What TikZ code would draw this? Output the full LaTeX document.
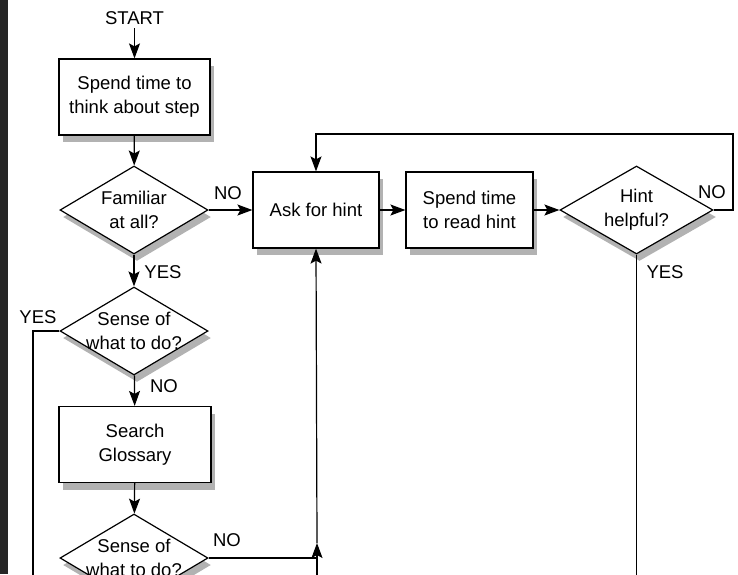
\documentclass[tikz,border=0pt]{standalone}
\usepackage{fontspec}
\setmainfont{Liberation Sans}
\usetikzlibrary{arrows.meta,shadows,shapes.geometric}
\tikzset{
  ar/.style={-{Stealth[length=15pt,width=11pt,inset=3pt]},line width=1.2pt},
  stepbox/.style={draw,line width=1.2pt,fill=white,align=center,minimum height=76pt,
    drop shadow={shadow xshift=4pt,shadow yshift=-7pt,fill=black!30,opacity=1}},
  decision/.style={diamond,draw,line width=1.2pt,fill=white,inner sep=0pt,
    minimum width=148pt,minimum height=88pt,
    drop shadow={shadow xshift=3pt,shadow yshift=-7pt,fill=black!30,opacity=1}},
  qtext/.style={align=center}
}
\begin{document}
\begin{tikzpicture}[x=1pt,y=-1pt,every node/.style={font=\fontsize{18.5}{24}\selectfont}]
\useasboundingbox (0,0) rectangle (738,574);
\fill[black!85] (0,0) rectangle (8,574);
% main column
\node (start) at (134.5,18) {START};
\node[stepbox,minimum width=151pt] (think) at (134.5,97) {Spend time to\\think about step};
\node[decision,label={[qtext]center:{Familiar\\at all?}}] (familiar) at (134,210) {};
\node[decision,label={[qtext]center:{Sense of\\what to do?}}] (sense1) at (134,331) {};
\node[stepbox,minimum width=152pt] (gloss) at (135,444.5) {Search\\Glossary};
\node[decision,label={[qtext]center:{Sense of\\what to do?}}] (sense2) at (134,558) {};
% hint row
\node[stepbox,minimum width=126pt] (ask) at (316,210) {Ask for hint};
\node[stepbox,minimum width=127pt] (read) at (469.5,210) {Spend time\\to read hint};
\node[decision,minimum width=153pt,label={[qtext]center:{Hint\\helpful?}}] (hint) at (636.5,210) {};
% loose ends
\coordinate (yesout) at (33,580);
\coordinate (fromlow) at (317,580);
\coordinate (merge) at (317,543);
\coordinate (hintout) at (636.5,580);
\coordinate (loopr) at (733,134);
% connectors
\draw[ar] (start) -- (think);
\draw[ar] (think) -- (familiar);
\draw[ar] (familiar) -- (sense1);
\draw[ar] (sense1) -- (gloss);
\draw[ar] (gloss) -- (sense2);
\draw[ar] (familiar) -- (ask);
\draw[ar] (ask) -- (read);
\draw[ar] (read) -- (hint);
\draw[ar] (hint.east) -| (loopr) -| (ask.north);
\draw[line width=1.2pt] (sense1.west) -| (yesout);
\draw[line width=1.2pt] (hint.south) -- (hintout);
\draw[line width=1.2pt] (sense2.east) -- (sense2.east -| merge);
\draw[ar] (fromlow) -- (merge);
\draw[ar] (merge) -- (ask.south);
% answers
\node (no1) at (228,193) {NO};
\node (yes1) at (163,272) {YES};
\node (yes2) at (38,317) {YES};
\node (no2) at (164,386) {NO};
\node (no3) at (227,540) {NO};
\node (no4) at (712,192) {NO};
\node (yes3) at (665,272) {YES};
\end{tikzpicture}
\end{document}
